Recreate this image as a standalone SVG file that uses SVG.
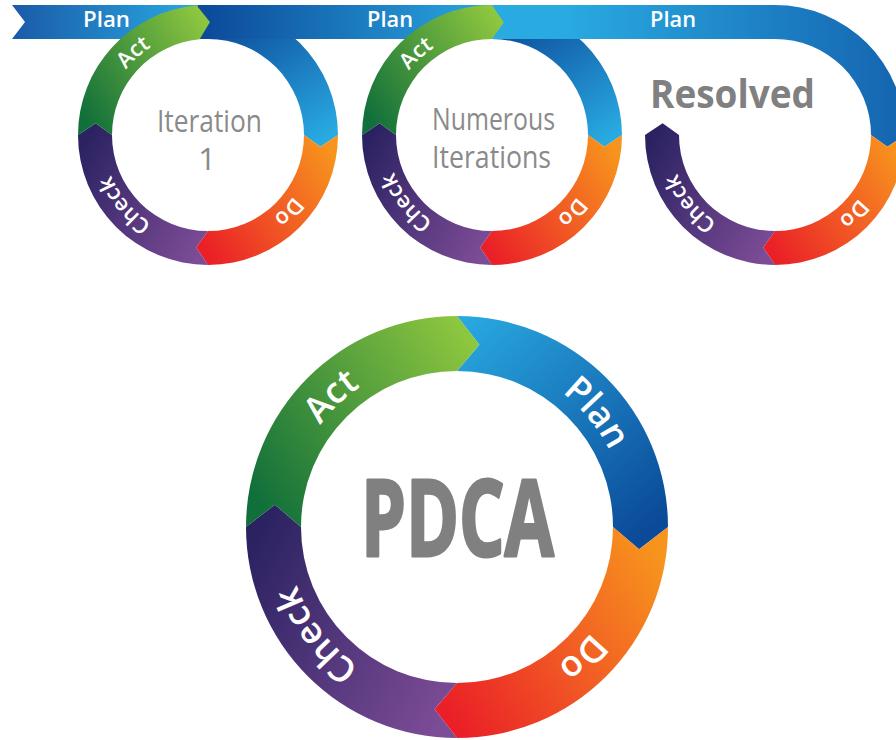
<svg xmlns="http://www.w3.org/2000/svg" width="896" height="740" viewBox="0 0 896 740">
<defs>
<linearGradient id="gAct" x1="0" y1="0.8" x2="1" y2="0.2"><stop offset="0" stop-color="#106f3a"/><stop offset="1" stop-color="#8dc63f"/></linearGradient>
<linearGradient id="gCheck" x1="0" y1="0.2" x2="1" y2="0.8"><stop offset="0" stop-color="#2b2262"/><stop offset="1" stop-color="#7c4c96"/></linearGradient>
<linearGradient id="gDo" x1="0" y1="0.8" x2="1" y2="0.2"><stop offset="0" stop-color="#ea1f27"/><stop offset="0.5" stop-color="#f15a24"/><stop offset="1" stop-color="#f7941d"/></linearGradient>
<linearGradient id="gPlanB" x1="0" y1="0" x2="0.8" y2="1"><stop offset="0" stop-color="#29abe2"/><stop offset="1" stop-color="#0b4a98"/></linearGradient>
<linearGradient id="gPlanS" x1="0.2" y1="0" x2="0.8" y2="1"><stop offset="0" stop-color="#0b4697"/><stop offset="1" stop-color="#29aae1"/></linearGradient>
<linearGradient id="gBanA" gradientUnits="userSpaceOnUse" x1="12" y1="0" x2="198" y2="0"><stop offset="0" stop-color="#1a5aa8"/><stop offset="1" stop-color="#29a9e1"/></linearGradient>
<linearGradient id="gBanB" gradientUnits="userSpaceOnUse" x1="205" y1="0" x2="490" y2="0"><stop offset="0" stop-color="#0c4a9a"/><stop offset="1" stop-color="#29a6df"/></linearGradient>
<linearGradient id="gBanC" gradientUnits="userSpaceOnUse" x1="560" y1="0" x2="905" y2="0"><stop offset="0" stop-color="#29abe2"/><stop offset="1" stop-color="#1564b0"/></linearGradient>
<path id="tp1" d="M208,240 A105,105 0 0 1 208,30 A105,105 0 0 1 208,240"/>
<path id="tp2" d="M492,240 A105,105 0 0 1 492,30 A105,105 0 0 1 492,240"/>
<path id="tp3" d="M775,240 A105,105 0 0 1 775,30 A105,105 0 0 1 775,240"/>
<path id="tpB" d="M457,697.5 A170.5,170.5 0 0 1 457,356.5 A170.5,170.5 0 0 1 457,697.5"/>
</defs>
<style>
.act{fill:url(#gAct)}
.check{fill:url(#gCheck)}
.do{fill:url(#gDo)}
.lbl{fill:#ffffff;font-family:"Open Sans","Liberation Sans",sans-serif;font-weight:600}
.sm{font-size:22px}
.bg{font-size:36px}
.ban{fill:#ffffff;font-family:"Open Sans","Liberation Sans",sans-serif;font-weight:600;font-size:21px}
.it{fill:#8a8a8a;font-family:"Open Sans","Liberation Sans",sans-serif;font-size:31px;text-anchor:middle}
.big{fill:#808080;font-family:"Liberation Sans Narrow","Open Sans","Liberation Sans",sans-serif;font-weight:700}
</style>

<g id="plan-quarters">
<path fill="url(#gPlanS)" d="M208,5 A130,130 0 0 1 338,135 L320.38,146.81 L304,135 A96,96 0 0 0 208,39 Z"/>
<path fill="url(#gPlanS)" d="M492,5 A130,130 0 0 1 622,135 L604.38,146.81 L588,135 A96,96 0 0 0 492,39 Z"/>
</g>

<g id="banner">
<path fill="url(#gBanA)" d="M12,5 L198,5 L198,39 L12,39 L25,22 Z"/>
<path fill="url(#gBanB)" d="M198,5 L493,5 L493,39 L198,39 Z"/>
<path fill="url(#gBanC)" d="M492,5 L775,5 A130,130 0 0 1 905,135 L887.38,146.81 L871,135 A96,96 0 0 0 775,39 L492,39 Z"/>
<text class="ban" x="83" y="27" textLength="47" lengthAdjust="spacingAndGlyphs">Plan</text>
<text class="ban" x="367" y="27" textLength="46" lengthAdjust="spacingAndGlyphs">Plan</text>
<text class="ban" x="650" y="27" textLength="46" lengthAdjust="spacingAndGlyphs">Plan</text>
</g>

<g id="iteration-1">
<path class="do" d="M338,135 A130,130 0 0 1 208,265 L196.19,247.38 L208,231 A96,96 0 0 0 304,135 L320.38,146.81 Z"/>
<path class="check" d="M208,265 A130,130 0 0 1 78,135 L95.62,123.19 L112,135 A96,96 0 0 0 208,231 L196.19,247.38 Z"/>
<path class="act" d="M78,135 A130,130 0 0 1 196.67,5.5 L209.97,22.02 L199.63,39.37 A96,96 0 0 0 112,135 L95.62,123.19 Z"/>
<text class="lbl sm"><textPath href="#tp1" startOffset="38.3%" text-anchor="middle">Act</textPath></text>
<text class="lbl sm"><textPath href="#tp1" startOffset="13.9%" text-anchor="middle">Check</textPath></text>
<text class="lbl sm"><textPath href="#tp1" startOffset="87.1%" text-anchor="middle">Do</textPath></text>
<text class="it" x="209.5" y="132" textLength="105" lengthAdjust="spacingAndGlyphs">Iteration</text>
<text class="it" x="207" y="170">1</text>
</g>

<g id="numerous-iterations">
<path class="do" d="M622,135 A130,130 0 0 1 492,265 L480.19,247.38 L492,231 A96,96 0 0 0 588,135 L604.38,146.81 Z"/>
<path class="check" d="M492,265 A130,130 0 0 1 362,135 L379.62,123.19 L396,135 A96,96 0 0 0 492,231 L480.19,247.38 Z"/>
<path class="act" d="M362,135 A130,130 0 0 1 492,5 L503.81,22.62 L492,39 A96,96 0 0 0 396,135 L379.62,123.19 Z"/>
<text class="lbl sm"><textPath href="#tp2" startOffset="38.1%" text-anchor="middle">Act</textPath></text>
<text class="lbl sm"><textPath href="#tp2" startOffset="14.4%" text-anchor="middle">Check</textPath></text>
<text class="lbl sm"><textPath href="#tp2" startOffset="87.2%" text-anchor="middle">Do</textPath></text>
<text class="it" x="493.5" y="130" textLength="123" lengthAdjust="spacingAndGlyphs">Numerous</text>
<text class="it" x="491.5" y="168" textLength="119" lengthAdjust="spacingAndGlyphs">Iterations</text>
</g>

<g id="resolved">
<path class="do" d="M905,135 A130,130 0 0 1 775,265 L763.19,247.38 L775,231 A96,96 0 0 0 871,135 L887.38,146.81 Z"/>
<path class="check" d="M775,265 A130,130 0 0 1 645,135 L662.62,123.19 L679,135 A96,96 0 0 0 775,231 L763.19,247.38 Z"/>
<text class="lbl sm"><textPath href="#tp3" startOffset="14.2%" text-anchor="middle">Check</textPath></text>
<text class="lbl sm"><textPath href="#tp3" startOffset="87.5%" text-anchor="middle">Do</textPath></text>
<text class="big" x="650" y="108" font-size="39" textLength="165" lengthAdjust="spacingAndGlyphs" style="font-family:'Open Sans','Liberation Sans',sans-serif">Resolved</text>
</g>

<g id="pdca">
<path fill="url(#gPlanB)" d="M457,316 A211,211 0 0 1 668,527 L639.13,549.36 L613,527 A156,156 0 0 0 457,371 L479.36,344.87 Z"/>
<path class="do" d="M668,527 A211,211 0 0 1 457,738 L434.64,709.13 L457,683 A156,156 0 0 0 613,527 L639.13,549.36 Z"/>
<path class="check" d="M457,738 A211,211 0 0 1 246,527 L274.87,504.64 L301,527 A156,156 0 0 0 457,683 L434.64,709.13 Z"/>
<path class="act" d="M246,527 A211,211 0 0 1 457,316 L479.36,344.87 L457,371 A156,156 0 0 0 301,527 L274.87,504.64 Z"/>
<text class="lbl bg"><textPath href="#tpB" startOffset="37.8%" text-anchor="middle">Act</textPath></text>
<text class="lbl bg"><textPath href="#tpB" startOffset="64.1%" text-anchor="middle">Plan</textPath></text>
<text class="lbl bg"><textPath href="#tpB" startOffset="87.8%" text-anchor="middle">Do</textPath></text>
<text class="lbl bg"><textPath href="#tpB" startOffset="14.6%" text-anchor="middle">Check</textPath></text>
<text class="big" x="361" y="556" font-size="106" textLength="193" lengthAdjust="spacingAndGlyphs" stroke="#808080" stroke-width="3" stroke-linejoin="round">PDCA</text>
</g>
</svg>
